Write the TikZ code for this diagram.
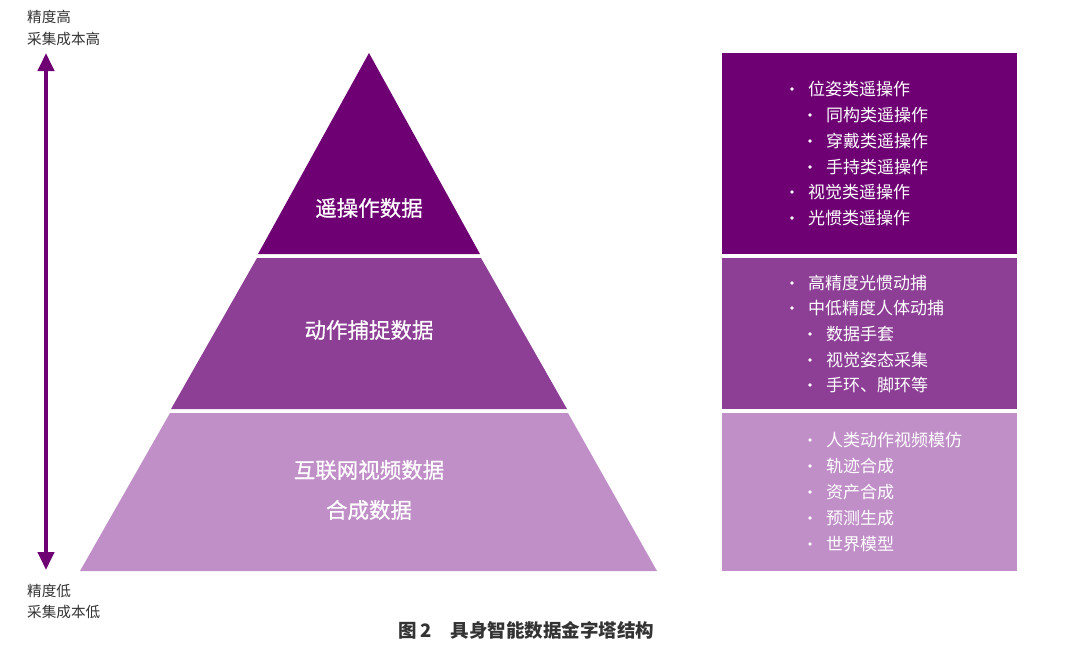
\documentclass[tikz,border=0pt]{standalone}
\usepackage{fontspec}
\setmainfont{Noto Sans CJK SC}
\newfontfamily\semibold[FakeBold=0.6]{Noto Sans CJK SC}
\usetikzlibrary{arrows.meta}

\definecolor{topcol}{HTML}{6E0074}
\definecolor{midcol}{HTML}{8D3F96}
\definecolor{lowcol}{HTML}{C08FC8}
\definecolor{labelgray}{HTML}{333333}

\tikzset{
  layerlabel/.style={text=white, font=\semibold\fontsize{21.5}{25}\selectfont, inner sep=0pt},
  itemtext/.style={anchor=west, text=white, font=\fontsize{17}{20}\selectfont, inner sep=0pt},
  itemdot/.style={circle, fill=white, inner sep=0pt, minimum size=3.6pt},
  sidelabel/.style={anchor=west, text=labelgray, font=\fontsize{14.6}{17}\selectfont, inner sep=0pt},
}

\begin{document}
\begin{tikzpicture}[x=1pt,y=-1pt]
\useasboundingbox (0,0) rectangle (1080,646);

\coordinate (A) at (369,53);   % apex
\coordinate (L) at (80,571);
\coordinate (R) at (657,571);

% pyramid layers
\fill[lowcol] (170,413) -- (568,413) -- (R) -- (L) -- cycle;
\fill[midcol] (257,258) -- (481,258) -- (567,409) -- (171,409) -- cycle;
\fill[topcol] (A) -- (480,254) -- (258,254) -- cycle;

\node[layerlabel] (tele) at (369,208) {遥操作数据};
\node[layerlabel] (mocap) at (369,330) {动作捕捉数据};
\node[layerlabel] (web) at (369,470) {互联网视频数据};
\node[layerlabel] (synth) at (369,510) {合成数据};

% boxes on the right
\fill[topcol] (722,53) rectangle (1017,254);
\fill[midcol] (722,258) rectangle (1017,409);
\fill[lowcol] (722,413) rectangle (1017,571);

\foreach \y/\bx/\txt [count=\i] in {
  89/792/位姿类遥操作, 115/810/同构类遥操作, 141/810/穿戴类遥操作,
  167/810/手持类遥操作, 192/792/视觉类遥操作, 218/792/光惯类遥操作,
  283/792/高精度光惯动捕, 308/792/中低精度人体动捕, 334/810/数据手套,
  360/810/视觉姿态采集, 385/810/手环、脚环等,
  440/810/人类动作视频模仿, 466/810/轨迹合成, 492/810/资产合成,
  518/810/预测生成, 544/810/世界模型}
{
  \node[itemdot] (d\i) at (\bx,\y) {};
  \node[itemtext] (t\i) at (\bx+16,\y) {\txt};
}

% precision / cost axis
\coordinate (up) at (46,53);
\coordinate (down) at (46,570);
\draw[topcol, line width=4pt, {Triangle[width=16pt,length=18pt]}-{Triangle[width=16pt,length=18pt]}] (down) -- (up);

\node[sidelabel] (hi1) at (27,17) {精度高};
\node[sidelabel] (hi2) at (27,39) {采集成本高};
\node[sidelabel] (lo1) at (27,591) {精度低};
\node[sidelabel] (lo2) at (27,612) {采集成本低};

\node[text=labelgray, font=\fontsize{18.5}{22}\selectfont\bfseries, inner sep=0pt] (cap) at (526,630) {图 2\quad 具身智能数据金字塔结构};

\end{tikzpicture}
\end{document}
